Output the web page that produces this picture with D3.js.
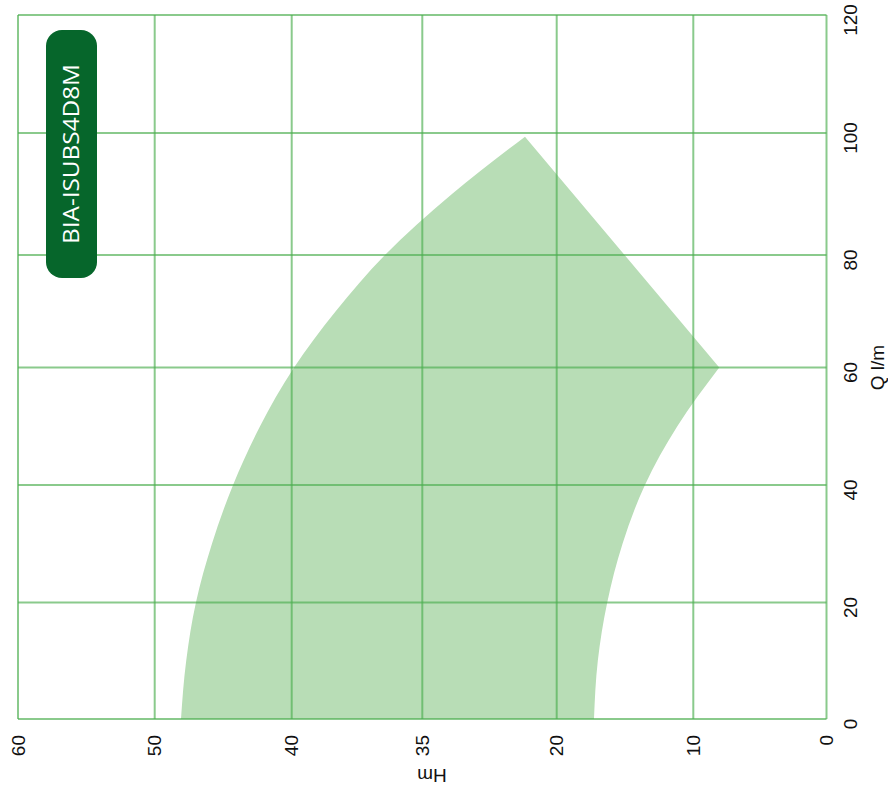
<!DOCTYPE html>
<html>
<head>
<meta charset="utf-8">
<script src="https://cdn.jsdelivr.net/npm/d3@7"></script>
<style>
	body { margin: 0; background: #fff; }
	svg { display: block; }
</style>
</head>
<body>
<svg id="chart" width="888" height="789"></svg>
<script>
// the whole chart is drawn upright (Q along, H up) and then turned -90deg
var qTicks = [0, 20, 40, 60, 80, 100, 120];
var hTicks = [0, 10, 20, 30, 40, 50, 60];
var hTickLabels = ["0", "10", "20", "35", "40", "50", "60"];

// top edge of the working range
var upperQ = [0, 10, 20, 30, 40, 50, 60, 70, 80, 90, 99.4];
var upperH = [48.08, 47.70, 46.99, 45.82, 44.28, 42.31, 39.82, 36.63, 32.86, 27.79, 22.36];
// bottom edge, from the tip back to Q = 0
var lowerQ = [60, 50, 40, 30, 20, 10, 0];
var lowerH = [8.05, 11.17, 13.54, 15.18, 16.30, 16.99, 17.27];

var modelName = "BIA-ISUBS4D8M";

var svg = d3.select("#chart");
var g = svg.append("g").attr("transform", "translate(0,789) rotate(-90)");

// grid in the reference is slightly uneven, so map tick by tick
var x = d3.scaleLinear().domain(qTicks).range([70, 186.5, 304, 421.5, 534, 656, 774]);
var y = d3.scaleLinear().domain(hTicks).range([826.5, 693.3, 556.7, 422.3, 291.7, 154.7, 18]);

var upperPts = upperQ.map(function(q, i){ return [q, upperH[i]]; });
var lowerPts = lowerQ.map(function(q, i){ return [q, lowerH[i]]; });

var line = d3.line()
	.x(function(d){ return x(d[0]); })
	.y(function(d){ return y(d[1]); })
	.curve(d3.curveMonotoneX);

// upper curve, straight edge down to the tip, lower curve back to Q=0
var d = line(upperPts) + line(lowerPts).replace(/^M/, "L") + "Z";

g.append("path")
	.attr("d", d)
	.style("fill", "#b8ddb6")
	.style("stroke", "none");

// grid
var gridColor = "#4caf50";
g.selectAll(".qgrid").data(qTicks).enter().append("line")
	.attr("class", "qgrid")
	.attr("x1", function(q){ return x(q); })
	.attr("x2", function(q){ return x(q); })
	.attr("y1", y(60))
	.attr("y2", y(0))
	.style("stroke", gridColor)
	.style("stroke-width", 2)
	.style("opacity", 0.65);

g.selectAll(".hgrid").data(hTicks).enter().append("line")
	.attr("class", "hgrid")
	.attr("x1", x(0))
	.attr("x2", x(120))
	.attr("y1", function(h){ return y(h); })
	.attr("y2", function(h){ return y(h); })
	.style("stroke", gridColor)
	.style("stroke-width", 2)
	.style("opacity", 0.65);

// tick labels
var tickFont = "'Liberation Sans', Arial, sans-serif";
g.selectAll(".qlab").data(qTicks).enter().append("text")
	.attr("class", "qlab")
	.attr("x", function(q){ return x(q) - 5; })
	.attr("y", 844)
	.attr("dy", "0.71em")
	.attr("text-anchor", "middle")
	.style("font-family", tickFont)
	.style("font-size", "19px")
	.style("fill", "#111")
	.text(function(q){ return q; });

g.selectAll(".hlab").data(hTicks).enter().append("text")
	.attr("class", "hlab")
	.attr("x", 54)
	.attr("y", function(h){ return y(h); })
	.attr("dy", "0.35em")
	.attr("text-anchor", "end")
	.style("font-family", tickFont)
	.style("font-size", "19px")
	.style("fill", "#111")
	.text(function(h, i){ return hTickLabels[i]; });

// axis titles
g.append("text")
	.attr("x", x(60))
	.attr("y", 884)
	.attr("text-anchor", "middle")
	.style("font-family", tickFont)
	.style("font-size", "19px")
	.style("fill", "#111")
	.text("Q l/m");

g.append("text")
	.attr("transform", "translate(20,432) rotate(-90)")
	.attr("text-anchor", "middle")
	.style("font-family", tickFont)
	.style("font-size", "19px")
	.style("fill", "#111")
	.text("Hm");

// model badge
g.append("rect")
	.attr("x", 511)
	.attr("y", 46)
	.attr("width", 248)
	.attr("height", 51)
	.attr("rx", 16)
	.attr("ry", 16)
	.style("fill", "#06662b");

g.append("text")
	.attr("x", 635)
	.attr("y", 71.5)
	.attr("dy", "0.36em")
	.attr("text-anchor", "middle")
	.attr("textLength", 180)
	.attr("lengthAdjust", "spacingAndGlyphs")
	.style("font-family", "'Open Sans', sans-serif")
	.style("font-size", "22px")
	.style("fill", "#fff")
	.text(modelName);
</script>
</body>
</html>
